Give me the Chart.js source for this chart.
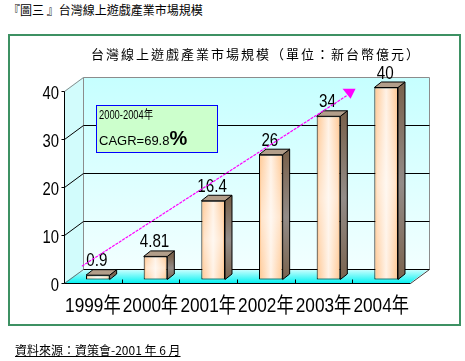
<!DOCTYPE html>
<html>
<head>
<meta charset="utf-8">
<script src="https://cdn.jsdelivr.net/npm/chart.js@4.4.1/dist/chart.umd.min.js"></script>
<style>
  body { margin: 0; background: #fff; }
  #page { position: relative; width: 465px; height: 361px; overflow: hidden; font-family: "Noto Sans CJK TC", sans-serif; }
  .caption { position: absolute; left: 8px; top: 1px; font-size: 12px; color: #000; white-space: nowrap; }
  .frame { position: absolute; left: 8px; top: 34px; width: 449px; height: 288px; border: 2px solid #3d9163; }
  .source { position: absolute; left: 15px; top: 341px; font-size: 12px; color: #000; text-decoration: underline; white-space: nowrap; }
  canvas { position: absolute; left: 0; top: 0; }
</style>
</head>
<body>
<div id="page">
  <div class="caption">『圖三 』台灣線上遊戲產業市場規模</div>
  <div class="frame"></div>
  <canvas id="marketChart" width="465" height="361"></canvas>
  <div class="source">資料來源：資策會-2001 年 6 月</div>
</div>
<script>
const years = ['1999年', '2000年', '2001年', '2002年', '2003年', '2004年'];
const marketSize = [0.9, 4.81, 16.4, 26, 34, 40]; // 新台幣億元
const sizeLabels = ['0.9', '4.81', '16.4', '26', '34', '40'];
const yTicks = [0, 10, 20, 30, 40];
const chartTitle = '台灣線上遊戲產業市場規模（單位：新台幣億元）';
const cagrLines = ['2000-2004年', 'CAGR=69.8', '%'];

// trend arrow, in scale units (category index, value)
const trendStart = [-0.19, 3.5];
const trendEnd = [4.4, 39];
const cagrBoxAt = [0.05, 37];

const LABEL_FONT = "'Liberation Sans', Arial, 'Noto Sans CJK TC', sans-serif";
const depth = {x: 19, y: -14};   // back wall offset
const barShift = {x: 5, y: -3.5}; // bars sit a bit behind the front edge
const barSide = {x: 7, y: -5.5};  // bar thickness

const px = v => Math.round(v) + 0.5;

function line(ctx, pts, color) {
    ctx.beginPath();
    ctx.moveTo(px(pts[0][0]), px(pts[0][1]));
    for (let i = 1; i < pts.length; i++) ctx.lineTo(px(pts[i][0]), px(pts[i][1]));
    ctx.strokeStyle = color;
    ctx.lineWidth = 1;
    ctx.stroke();
}

function poly(ctx, pts, fill, stroke) {
    ctx.beginPath();
    ctx.moveTo(pts[0][0], pts[0][1]);
    for (let i = 1; i < pts.length; i++) ctx.lineTo(pts[i][0], pts[i][1]);
    ctx.closePath();
    ctx.fillStyle = fill;
    ctx.fill();
    if (stroke) {
        ctx.strokeStyle = stroke;
        ctx.lineWidth = 1;
        ctx.stroke();
    }
}

// the old chart uses a tall condensed face, so squeeze the text horizontally
function narrowText(ctx, text, x, y, size, align, squeeze) {
    ctx.save();
    ctx.translate(x, y);
    ctx.scale(squeeze || 0.8, 1);
    ctx.font = size + 'px ' + LABEL_FONT;
    ctx.textAlign = align;
    ctx.textBaseline = 'alphabetic';
    ctx.fillStyle = '#000';
    ctx.fillText(text, 0, 0);
    ctx.restore();
}

function barFill(context) {
    const chart = context.chart;
    const area = chart.chartArea;
    if (!area || context.type !== 'data') return '#ffcc99';
    const x = chart.scales.x.getPixelForValue(context.dataIndex);
    const w = area.width / years.length * 0.41;
    const g = chart.ctx.createLinearGradient(x - w / 2, 0, x + w / 2, 0);
    g.addColorStop(0, '#ffc690');
    g.addColorStop(0.5, '#fff2e6');
    g.addColorStop(1, '#ffc690');
    return g;
}

const wallsPlugin = {
    id: 'walls',
    beforeDatasetsDraw(chart) {
        const {ctx, chartArea: a, scales} = chart;
        const sy = v => scales.y.getPixelForValue(v);
        const L = a.left, R = a.right, y0 = sy(0), yTop = sy(40);
        const dx = depth.x, dy = depth.y;
        ctx.save();

        let g = ctx.createLinearGradient(0, yTop + dy, 0, y0 + dy);
        g.addColorStop(0, '#c6ffff');
        g.addColorStop(1, '#f2ffff');
        ctx.fillStyle = g;
        ctx.fillRect(L + dx, yTop + dy, R - L, y0 - yTop);

        poly(ctx, [[L, yTop], [L + dx, yTop + dy], [L + dx, y0 + dy], [L, y0]], '#d2fcfc');

        g = ctx.createLinearGradient(0, y0, 0, y0 + dy);
        g.addColorStop(0, '#08f2f2');
        g.addColorStop(1, '#d4ffff');
        poly(ctx, [[L, y0], [R, y0], [R + dx, y0 + dy], [L + dx, y0 + dy]], g);

        // outline of the box
        line(ctx, [[L, yTop], [L + dx, yTop + dy], [R + dx, yTop + dy], [R + dx, y0 + dy]], '#8c8c8c');
        line(ctx, [[L + dx, yTop + dy], [L + dx, y0 + dy]], '#8c8c8c');
        line(ctx, [[L, y0], [L + dx, y0 + dy]], '#707070');
        line(ctx, [[R, y0], [R + dx, y0 + dy]], '#404040');

        yTicks.forEach(v => {
            if (v === 0 || v === 40) return;
            line(ctx, [[L, sy(v)], [L + dx, sy(v) + dy], [R + dx, sy(v) + dy]], '#000');
        });
        line(ctx, [[L + dx, y0 + dy], [R + dx, y0 + dy]], '#000');

        // front axes
        line(ctx, [[L, yTop], [L, y0], [R, y0]], '#000');
        yTicks.forEach(v => line(ctx, [[L - 3, sy(v)], [L, sy(v)]], '#000'));
        for (let i = 0; i < years.length - 1; i++) {
            const x = scales.x.getPixelForValue(i + 0.5);
            line(ctx, [[x, y0 - 4], [x, y0]], '#000');
        }

        // axis labels
        scales.y.ticks.forEach(t => {
            narrowText(ctx, String(t.value), L - 5, sy(t.value) + 8, 19, 'right', 0.78);
        });
        scales.x.getLabels().forEach((lab, i) => {
            narrowText(ctx, lab, scales.x.getPixelForValue(i), y0 + 29, 21, 'center', 0.82);
        });
        ctx.restore();
    },
    beforeDatasetDraw(chart) {
        chart.ctx.save();
        chart.ctx.translate(barShift.x, barShift.y);
    },
    afterDatasetDraw(chart, args) {
        const ctx = chart.ctx;
        args.meta.data.forEach(el => {
            const l = el.x - el.width / 2, r = el.x + el.width / 2;
            const t = el.y, b = el.base;
            // soft vertical highlight on the front face
            const hl = ctx.createLinearGradient(0, t, 0, b);
            hl.addColorStop(0, 'rgba(255,255,255,0)');
            hl.addColorStop(0.5, 'rgba(255,255,255,0.45)');
            hl.addColorStop(1, 'rgba(255,255,255,0)');
            ctx.fillStyle = hl;
            ctx.fillRect(l + 2, t + 1, r - l - 4, b - t - 2);

            const sg = ctx.createLinearGradient(0, t, 0, b);
            sg.addColorStop(0, '#7a634e');
            sg.addColorStop(0.5, '#938c88');
            sg.addColorStop(1, '#7a634e');
            poly(ctx, [[r, t], [r + barSide.x, t + barSide.y], [r + barSide.x, b + barSide.y], [r, b]], sg, '#000');
            poly(ctx, [[l, t], [l + barSide.x, t + barSide.y], [r + barSide.x, t + barSide.y], [r, t]], '#b29e8a', '#000');
        });
        ctx.restore();
    },
    afterDraw(chart) {
        const {ctx, scales} = chart;
        const sx = v => scales.x.getPixelForValue(v);
        const sy = v => scales.y.getPixelForValue(v);
        ctx.save();

        // value labels above the bars
        chart.getDatasetMeta(0).data.forEach((el, i) => {
            narrowText(ctx, sizeLabels[i], el.x + barShift.x - 1, el.y + barShift.y - 9, 19, 'center', 0.8);
        });

        // growth arrow
        const x1 = sx(trendStart[0]), y1 = sy(trendStart[1]);
        const x2 = sx(trendEnd[0]), y2 = sy(trendEnd[1]);
        ctx.beginPath();
        ctx.setLineDash([3, 1]);
        ctx.moveTo(x1, y1);
        ctx.lineTo(x2, y2);
        ctx.strokeStyle = '#ff00ff';
        ctx.lineWidth = 1.2;
        ctx.stroke();
        ctx.setLineDash([]);
        poly(ctx, [[x2 - 4, y2 - 7], [x2 + 9, y2 - 7], [x2 + 4, y2 + 3]], '#ff00ff');

        // CAGR note
        const bx = Math.round(sx(cagrBoxAt[0])), by = Math.round(sy(cagrBoxAt[1]));
        ctx.fillStyle = '#ccffcc';
        ctx.fillRect(bx, by, 121, 47);
        ctx.strokeStyle = '#0000ff';
        ctx.lineWidth = 1;
        ctx.strokeRect(bx + 0.5, by + 0.5, 121, 47);
        narrowText(ctx, cagrLines[0], bx + 3, by + 14, 12, 'left', 0.78);
        ctx.fillStyle = '#000';
        ctx.textAlign = 'left';
        ctx.textBaseline = 'alphabetic';
        ctx.font = "13px 'Liberation Sans', Arial, sans-serif";
        ctx.fillText(cagrLines[1], bx + 3, by + 40);
        const w = ctx.measureText(cagrLines[1]).width;
        ctx.font = "bold 20px 'Liberation Sans', Arial, sans-serif";
        ctx.fillText(cagrLines[2], bx + 3 + w, by + 40);

        // chart title
        ctx.font = "13px 'Noto Sans CJK TC', sans-serif";
        ctx.letterSpacing = '2px';
        ctx.textAlign = 'center';
        ctx.textBaseline = 'middle';
        ctx.fillText(chartTitle, 256, 54);
        ctx.restore();
    }
};

new Chart(document.getElementById('marketChart'), {
    type: 'bar',
    data: {
        labels: years,
        datasets: [{
            label: '市場規模',
            data: marketSize,
            backgroundColor: barFill,
            borderColor: '#000',
            borderWidth: 1,
            borderSkipped: false,
            barPercentage: 0.41,
            categoryPercentage: 1,
            clip: false
        }]
    },
    options: {
        responsive: false,
        animation: false,
        devicePixelRatio: 1,
        layout: {padding: {top: 91, left: 24, right: 55, bottom: 0}},
        plugins: {
            legend: {display: false},
            tooltip: {enabled: false},
            title: {display: false}
        },
        scales: {
            x: {
                grid: {display: false, drawTicks: false},
                border: {display: false},
                ticks: {display: false},
                afterFit(s) { s.height = 78; }
            },
            y: {
                min: 0,
                max: 40,
                grid: {display: false, drawTicks: false},
                border: {display: false},
                ticks: {display: false, stepSize: 10},
                afterFit(s) { s.width = 40; }
            }
        }
    },
    plugins: [wallsPlugin]
});
</script>
</body>
</html>
